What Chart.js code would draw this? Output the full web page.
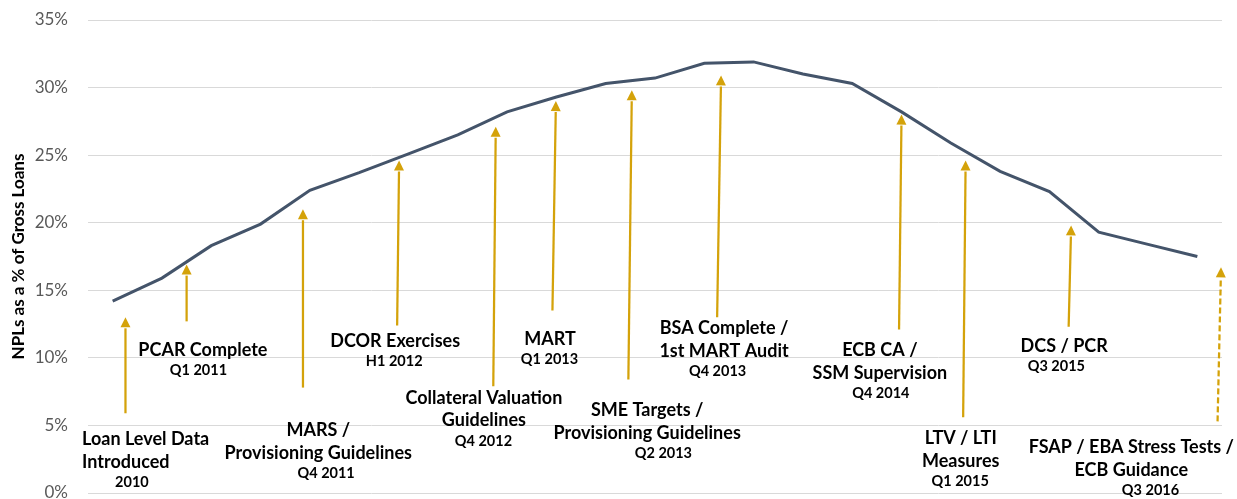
<!DOCTYPE html>
<html>
<head>
<meta charset="utf-8">
<script src="https://cdn.jsdelivr.net/npm/chart.js@4.4.1/dist/chart.umd.min.js"></script>
<style>
  html, body { margin: 0; padding: 0; background: #ffffff; }
  canvas { display: block; }
</style>
</head>
<body>
<canvas id="chart" width="1237" height="499"></canvas>
<script>
// ---- Data ----
const quarters = ['Q4 2010','Q1 2011','Q2 2011','Q3 2011','Q4 2011','Q1 2012','Q2 2012','Q3 2012','Q4 2012',
                  'Q1 2013','Q2 2013','Q3 2013','Q4 2013','Q1 2014','Q2 2014','Q3 2014','Q4 2014',
                  'Q1 2015','Q2 2015','Q3 2015','Q4 2015','Q1 2016','Q2 2016'];
const nplRatio = [14.2, 15.9, 18.3, 19.9, 22.4, 23.7, 25.1, 26.5, 28.2, 29.3, 30.3, 30.7,
                  31.8, 31.9, 31.0, 30.3, 28.2, 25.9, 23.8, 22.3, 19.3, 18.4, 17.5];
const yTicks = [0, 5, 10, 15, 20, 25, 30, 35];

// Policy events
const eventTitles = [
  ['Loan Level Data', 'Introduced'],
  ['PCAR Complete'],
  ['MARS /', 'Provisioning Guidelines'],
  ['DCOR Exercises'],
  ['Collateral Valuation', 'Guidelines'],
  ['MART'],
  ['SME Targets /', 'Provisioning Guidelines'],
  ['BSA Complete /', '1st MART Audit'],
  ['ECB CA /', 'SSM Supervision'],
  ['LTV / LTI', 'Measures'],
  ['DCS / PCR'],
  ['FSAP / EBA Stress Tests /', 'ECB Guidance']
];
const eventDates = ['2010','Q1 2011','Q4 2011','H1 2012','Q4 2012','Q1 2013','Q2 2013','Q4 2013',
                    'Q4 2014','Q1 2015','Q3 2015','Q3 2016'];
// arrows in data units (x: category index, y: % value)
const arrowBaseX = [0.26, 1.50, 3.86, 5.77, 7.72, 8.92, 10.46, 12.26, 15.95, 17.25, 19.39, 22.41];
const arrowTipX  = [0.26, 1.50, 3.86, 5.81, 7.77, 8.99, 10.53, 12.34, 16.00, 17.30, 19.44, 22.48];
const arrowBaseY = [5.9, 12.7, 7.8, 12.4, 7.9, 13.5, 8.4, 13.0, 12.1, 5.6, 12.3, 5.3];
const arrowTipY  = [13.0, 16.9, 21.0, 24.6, 27.1, 29.0, 29.8, 30.9, 28.0, 24.6, 19.8, 16.7];
const arrowDashed = [false, false, false, false, false, false, false, false, false, false, false, true];
// label anchors in data units (x: category index, y: % value of first line)
const labelTitleX = [-0.62, 1.83, 4.17, 5.73, 7.53, 8.87, 10.84, 12.40, 15.56, 17.20, 19.30, 20.66];
const labelDateX  = [0.39, 1.74, 4.33, 5.71, 7.52, 8.86, 11.17, 12.27, 15.58, 17.19, 19.14, 21.05];
const labelY      = [3.96, 10.57, 4.64, 11.24, 7.04, 11.39, 6.13, 12.18, 10.57, 4.07, 10.89, 3.36];
const labelAlign  = ['left','center','center','center','center','center','center','center','center','center','center','center'];

// ---- Styles ----
const GOLD = '#D4A20A';
const LINE = '#44546A';
const FONT = 'Lato, "Open Sans", sans-serif';

const eventPlugin = {
  id: 'events',
  afterDatasetsDraw(chart) {
    const { ctx } = chart;
    const xs = chart.scales.x, ys = chart.scales.y;
    ctx.save();
    for (let i = 0; i < arrowBaseX.length; i++) {
      const x0 = xs.getPixelForValue(arrowBaseX[i]);
      const y0 = ys.getPixelForValue(arrowBaseY[i]);
      const x1 = xs.getPixelForValue(arrowTipX[i]);
      const y1 = ys.getPixelForValue(arrowTipY[i]);
      const ang = Math.atan2(y1 - y0, x1 - x0);
      const hl = 10, hw = 5;
      const sx = x1 - Math.cos(ang) * hl, sy = y1 - Math.sin(ang) * hl;
      ctx.strokeStyle = GOLD;
      ctx.lineWidth = 2.25;
      ctx.setLineDash(arrowDashed[i] ? [6, 3] : []);
      ctx.beginPath();
      ctx.moveTo(x0, y0);
      ctx.lineTo(sx, sy + 1);
      ctx.stroke();
      ctx.setLineDash([]);
      ctx.fillStyle = GOLD;
      ctx.beginPath();
      ctx.moveTo(x1, y1);
      ctx.lineTo(sx + Math.sin(ang) * hw, sy - Math.cos(ang) * hw);
      ctx.lineTo(sx - Math.sin(ang) * hw, sy + Math.cos(ang) * hw);
      ctx.closePath();
      ctx.fill();
    }
    ctx.fillStyle = '#000000';
    ctx.textBaseline = 'middle';
    for (let i = 0; i < eventTitles.length; i++) {
      const tx = xs.getPixelForValue(labelTitleX[i]);
      const dx = xs.getPixelForValue(labelDateX[i]);
      let ty = ys.getPixelForValue(labelY[i]);
      ctx.font = 'bold 18px ' + FONT;
      ctx.textAlign = labelAlign[i];
      const lines = eventTitles[i];
      for (let j = 0; j < lines.length; j++) {
        ctx.fillText(lines[j], tx, ty);
        if (j < lines.length - 1) ty += 22.7;
      }
      ty += 20.5;
      ctx.font = 'bold 14.5px ' + FONT;
      ctx.textAlign = 'center';
      ctx.fillText(eventDates[i], dx, ty);
    }
    ctx.restore();
  }
};

new Chart(document.getElementById('chart'), {
  type: 'line',
  data: {
    labels: quarters,
    datasets: [{
      label: 'NPLs as a % of Gross Loans',
      data: nplRatio,
      borderColor: LINE,
      backgroundColor: LINE,
      borderWidth: 3,
      pointRadius: 0,
      tension: 0,
      fill: false
    }]
  },
  options: {
    responsive: false,
    animation: false,
    devicePixelRatio: 1,
    layout: { padding: { top: 20, right: 15, bottom: 6, left: 0 } },
    plugins: { legend: { display: false }, tooltip: { enabled: false } },
    scales: {
      x: { type: 'category', display: false, offset: true },
      y: {
        min: 0, max: 35,
        afterBuildTicks: (s) => { s.ticks = yTicks.map(v => ({ value: v })); },
        afterFit: (s) => { s.width = 88; s.paddingTop = 0; s.paddingBottom = 0; },
        border: { display: false },
        grid: { color: '#D9D9D9', lineWidth: 1, drawTicks: false },
        ticks: {
          padding: 20,
          color: '#595959',
          font: { family: FONT, size: 17 },
          callback: (v) => v + '%'
        },
        title: {
          display: true,
          text: 'NPLs as a % of Gross Loans',
          color: '#000000',
          font: { family: FONT, size: 17, weight: 'bold' },
          padding: { top: 8, bottom: 0 }
        }
      }
    }
  },
  plugins: [eventPlugin]
});
</script>
</body>
</html>
